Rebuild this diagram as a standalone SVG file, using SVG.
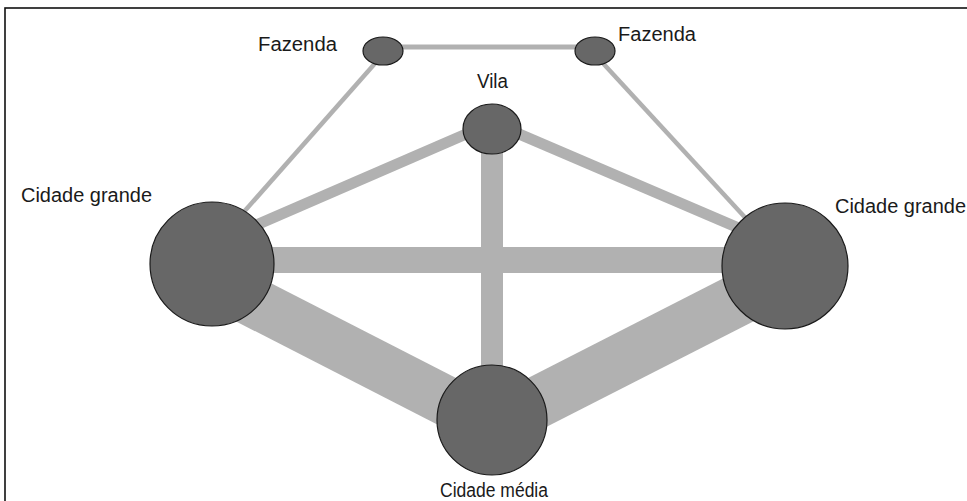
<svg xmlns="http://www.w3.org/2000/svg" width="967" height="501" viewBox="0 0 967 501">
<style>
.edge{stroke:#b1b1b1;fill:none;stroke-linecap:butt}
.node{fill:#676767;stroke:#1a1a1a;stroke-width:1.2}
.lbl{font-family:"Liberation Sans",Arial,sans-serif;font-size:20px;fill:#1a1a1a}
</style>
<rect x="0" y="0" width="967" height="501" fill="#ffffff"/>
<rect x="5" y="8" width="1000" height="520" fill="none" stroke="#111" stroke-width="1.6"/>
<g id="connectors">
<line class="edge" x1="400" y1="47" x2="578" y2="47" stroke-width="5"/>
<line class="edge" x1="378" y1="60" x2="235" y2="222" stroke-width="4.5"/>
<line class="edge" x1="600" y1="60" x2="752" y2="225" stroke-width="4.5"/>
<line class="edge" x1="480" y1="128" x2="240" y2="232" stroke-width="11"/>
<line class="edge" x1="505" y1="128" x2="748" y2="232" stroke-width="11"/>
<line class="edge" x1="492" y1="140" x2="492" y2="380" stroke-width="22"/>
<line class="edge" x1="230" y1="260" x2="760" y2="260" stroke-width="26"/>
<line class="edge" x1="212" y1="281" x2="493" y2="425" stroke-width="50"/>
<line class="edge" x1="785" y1="276" x2="493" y2="425" stroke-width="52"/>
</g>
<g id="fazenda-left"><ellipse class="node" cx="383" cy="51" rx="20" ry="14"/><text class="lbl" x="258" y="51" textLength="79" lengthAdjust="spacingAndGlyphs">Fazenda</text></g>
<g id="fazenda-right"><ellipse class="node" cx="595" cy="51" rx="20" ry="14"/><text class="lbl" x="618" y="41" textLength="78" lengthAdjust="spacingAndGlyphs">Fazenda</text></g>
<g id="vila"><ellipse class="node" cx="492" cy="129" rx="29" ry="25"/><text class="lbl" x="477" y="88" textLength="31" lengthAdjust="spacingAndGlyphs">Vila</text></g>
<g id="cidade-grande-left"><circle class="node" cx="212" cy="264" r="62"/><text class="lbl" x="21" y="202" textLength="131" lengthAdjust="spacingAndGlyphs">Cidade grande</text></g>
<g id="cidade-grande-right"><circle class="node" cx="785" cy="266" r="63"/><text class="lbl" x="835" y="213" textLength="131" lengthAdjust="spacingAndGlyphs">Cidade grande</text></g>
<g id="cidade-media"><circle class="node" cx="492" cy="420" r="55"/><text class="lbl" x="440" y="497" textLength="108" lengthAdjust="spacingAndGlyphs">Cidade média</text></g>
</svg>
